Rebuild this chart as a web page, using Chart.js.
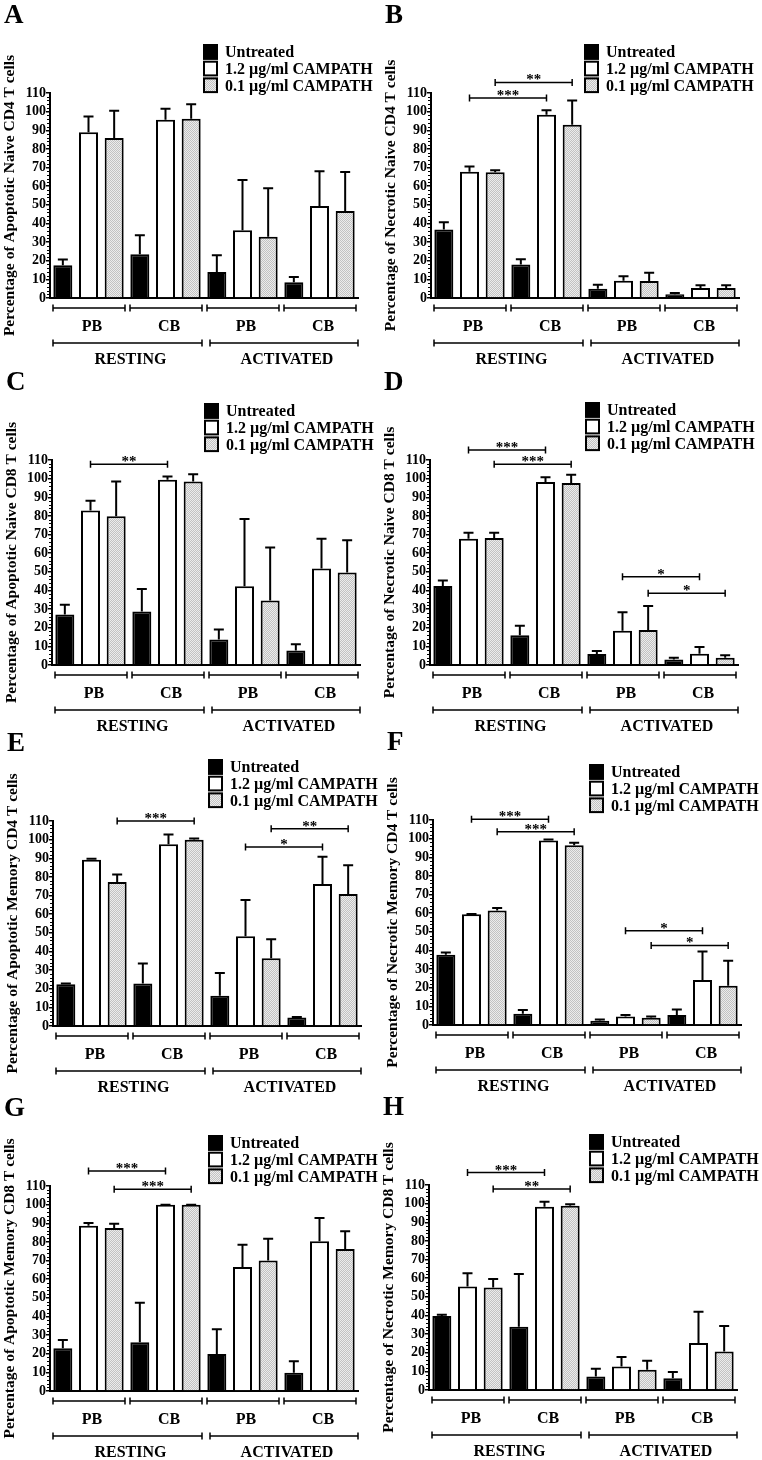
<!DOCTYPE html>
<html>
<head>
<meta charset="utf-8">
<script src="https://cdn.jsdelivr.net/npm/chart.js@4.4.1/dist/chart.umd.min.js"></script>
<style>
  body { margin: 0; background: #fff; overflow: hidden; }
  #wrap { position: relative; width: 762px; height: 1460px; }
  #wrap canvas { position: absolute; }
</style>
</head>
<body>
<div id="wrap"></div>
<script>
// categories
const sources = ["PB", "CB", "PB", "CB"];
const states = ["RESTING", "ACTIVATED"];
const treatments = ["Untreated", "1.2 \u00b5g/ml CAMPATH", "0.1 \u00b5g/ml CAMPATH"];
const yMax = 110;
const yStep = 10;

// values per treatment: [PB rest, CB rest, PB act, CB act]
const aMean = [[17.6, 23.5, 14.0, 8.4], [89.0, 95.6, 36.4, 49.3], [85.8, 96.2, 32.8, 46.7]];
const aSd   = [[3.0, 10.2, 9.0, 2.9], [8.4, 6.0, 26.9, 18.7], [14.7, 7.8, 26.1, 20.9]];
const aSig  = [];

const bMean = [[36.8, 18.0, 5.0, 2.0], [67.8, 98.3, 9.3, 5.3], [67.5, 92.9, 9.1, 5.3]];
const bSd   = [[3.8, 2.8, 2.1, 0.7], [2.7, 2.4, 2.4, 1.5], [1.0, 13.1, 4.4, 1.5]];
const bSig  = [{ from: 1, to: 4, at: 107.3, stars: "***" }, { from: 2, to: 5, at: 115.7, stars: "**" }];

const cMean = [[27.1, 28.7, 13.7, 7.8], [82.9, 99.4, 42.2, 51.8], [79.8, 98.5, 34.6, 49.7]];
const cSd   = [[5.2, 12.1, 5.3, 3.4], [5.3, 1.7, 36.2, 16.0], [18.7, 3.9, 28.4, 17.2]];
const cSig  = [{ from: 1, to: 4, at: 107.7, stars: "**" }];

const dMean = [[42.4, 15.9, 5.9, 2.9], [67.8, 98.2, 18.4, 6.1], [68.2, 97.7, 18.8, 3.9]];
const dSd   = [[3.0, 5.2, 1.6, 1.0], [3.2, 2.5, 9.9, 3.6], [2.8, 4.4, 12.9, 1.3]];
const dSig  = [{ from: 1, to: 4, at: 115.4, stars: "***" }, { from: 2, to: 5, at: 107.7, stars: "***" },
               { from: 7, to: 10, at: 47.4, stars: "*" }, { from: 8, to: 11, at: 38.5, stars: "*" }];

const eMean = [[22.4, 22.8, 16.2, 4.6], [89.2, 97.5, 48.2, 76.2], [77.3, 100.0, 36.3, 70.8]];
const eSd   = [[0.4, 10.7, 12.3, 0.2], [0.5, 5.2, 19.4, 14.6], [4.0, 0.6, 10.3, 15.5]];
const eSig  = [{ from: 2, to: 5, at: 110.0, stars: "***" }, { from: 7, to: 10, at: 96.1, stars: "*" },
               { from: 8, to: 11, at: 105.9, stars: "**" }];

const fMean = [[37.7, 6.1, 2.3, 5.4], [59.4, 99.0, 4.5, 24.2], [61.5, 96.4, 3.9, 21.0]];
const fSd   = [[1.2, 2.0, 0.6, 2.9], [0.2, 0.6, 0.9, 15.3], [1.3, 1.4, 0.6, 13.5]];
const fSig  = [{ from: 1, to: 4, at: 110.4, stars: "***" }, { from: 2, to: 5, at: 103.7, stars: "***" },
               { from: 7, to: 10, at: 50.6, stars: "*" }, { from: 8, to: 11, at: 42.7, stars: "*" }];

const gMean = [[22.9, 26.1, 19.9, 9.8], [88.7, 99.9, 66.6, 80.3], [87.4, 99.9, 70.0, 76.2]];
const gSd   = [[4.5, 21.3, 13.3, 6.2], [1.4, 0.1, 11.9, 12.5], [2.3, 0.1, 11.7, 9.5]];
const gSig  = [{ from: 1, to: 4, at: 118.0, stars: "***" }, { from: 2, to: 5, at: 108.2, stars: "***" }];

const hMean = [[39.7, 33.9, 7.2, 6.3], [55.5, 98.3, 12.6, 25.2], [55.0, 98.8, 10.8, 20.7]];
const hSd   = [[0.7, 28.3, 4.2, 3.3], [7.1, 2.7, 5.1, 16.8], [4.5, 0.9, 4.9, 13.6]];
const hSig  = [{ from: 1, to: 4, at: 116.7, stars: "***" }, { from: 2, to: 5, at: 107.8, stars: "**" }];

const panels = [
    { letter: "A", title: "Percentage of Apoptotic Naive CD4 T cells", mean: aMean, sd: aSd, sig: aSig },
    { letter: "B", title: "Percentage of Necrotic Naive CD4 T cells", mean: bMean, sd: bSd, sig: bSig },
    { letter: "C", title: "Percentage of Apoptotic Naive CD8 T cells", mean: cMean, sd: cSd, sig: cSig },
    { letter: "D", title: "Percentage of Necrotic Naive CD8 T cells", mean: dMean, sd: dSd, sig: dSig },
    { letter: "E", title: "Percentage of Apoptotic Memory CD4 T cells", mean: eMean, sd: eSd, sig: eSig },
    { letter: "F", title: "Percentage of Necrotic Memory CD4 T cells", mean: fMean, sd: fSd, sig: fSig },
    { letter: "G", title: "Percentage of Apoptotic Memory CD8 T cells", mean: gMean, sd: gSd, sig: gSig },
    { letter: "H", title: "Percentage of Necrotic Memory CD8 T cells", mean: hMean, sd: hSd, sig: hSig }
];

// where each panel sits on the page, and its legend
const panelPos = [
    { x: 0, y: 0, lx: 203, ly: 44 },
    { x: 381, y: 0, lx: 203, ly: 44 },
    { x: 2, y: 367, lx: 202, ly: 36 },
    { x: 380, y: 367, lx: 205, ly: 35 },
    { x: 3, y: 728, lx: 205, ly: 31 },
    { x: 383, y: 727, lx: 206, ly: 37 },
    { x: 0, y: 1093, lx: 208, ly: 42 },
    { x: 379, y: 1092, lx: 210, ly: 42 }
];

const SERIF = "'Liberation Serif', 'Times New Roman', serif";

// light grey checker fill
function makeHatch() {
    const c = document.createElement("canvas");
    c.width = 2; c.height = 2;
    const g = c.getContext("2d");
    g.fillStyle = "#ececec";
    g.fillRect(0, 0, 2, 2);
    g.fillStyle = "#c2c2c2";
    g.fillRect(0, 0, 1, 1);
    g.fillRect(1, 1, 1, 1);
    return g.createPattern(c, "repeat");
}
const hatch = makeHatch();
const fills = ["#000000", "#ffffff", hatch];

// put the 4 group values of one treatment into its slots of 12 bars
function spread(vals, t) {
    const out = new Array(12).fill(null);
    vals.forEach((v, g) => { out[g * 3 + t] = v; });
    return out;
}

function bracket(ctx, x1, x2, y, cap) {
    ctx.beginPath();
    ctx.moveTo(x1, y); ctx.lineTo(x2, y);
    ctx.moveTo(x1, y - cap); ctx.lineTo(x1, y + cap);
    ctx.moveTo(x2, y - cap); ctx.lineTo(x2, y + cap);
    ctx.stroke();
}

const annotate = {
    id: "annotate",
    afterDatasetsDraw(chart) {
        const ctx = chart.ctx;
        const ys = chart.scales.y;
        ctx.save();
        ctx.strokeStyle = "#000";
        ctx.lineWidth = 2;
        chart.data.datasets.forEach((ds, di) => {
            const meta = chart.getDatasetMeta(di);
            ds.data.forEach((v, i) => {
                if (v == null) return;
                const bar = meta.data[i];
                const top = ys.getPixelForValue(v + ds.errors[i]);
                const base = ys.getPixelForValue(v);
                ctx.beginPath();
                ctx.moveTo(bar.x, base);
                ctx.lineTo(bar.x, top);
                ctx.moveTo(bar.x - 5, top);
                ctx.lineTo(bar.x + 5, top);
                ctx.stroke();
            });
        });
        ctx.restore();
    },
    afterDraw(chart, args, opts) {
        const ctx = chart.ctx;
        const xs = chart.scales.x, ys = chart.scales.y;
        const area = chart.chartArea;
        const w = xs.width / 12;
        ctx.save();
        ctx.strokeStyle = "#000";
        ctx.fillStyle = "#000";

        // minor ticks on the y axis
        ctx.lineWidth = 1;
        for (let v = 2; v < yMax; v += 2) {
            if (v % yStep === 0) continue;
            const py = Math.round(ys.getPixelForValue(v)) + 0.5;
            ctx.beginPath();
            ctx.moveTo(area.left - 3, py);
            ctx.lineTo(area.left, py);
            ctx.stroke();
        }

        // significance brackets
        ctx.lineWidth = 1.5;
        ctx.textAlign = "center";
        ctx.textBaseline = "alphabetic";
        ctx.font = "bold 15px " + SERIF;
        opts.sig.forEach(s => {
            const x1 = xs.getPixelForValue(s.from);
            const x2 = xs.getPixelForValue(s.to);
            const py = ys.getPixelForValue(s.at);
            bracket(ctx, x1, x2, py, 3.5);
            ctx.fillText(s.stars, (x1 + x2) / 2, py + 2);
        });

        // group brackets and labels under the axis
        ctx.font = "bold 16px " + SERIF;
        ctx.textBaseline = "middle";
        sources.forEach((lab, g) => {
            const x1 = area.left + g * 3 * w + 3;
            const x2 = area.left + (g + 1) * 3 * w - 2;
            bracket(ctx, x1, x2, area.bottom + 10, 3.5);
            ctx.fillText(lab, (x1 + x2) / 2 + 3, area.bottom + 29);
        });
        states.forEach((lab, s) => {
            const x1 = area.left + s * 6 * w + (s ? 6 : 3);
            const x2 = area.left + (s + 1) * 6 * w - (s ? 0 : 2);
            bracket(ctx, x1, x2, area.bottom + 45, 3.5);
            ctx.fillText(lab, (x1 + x2) / 2 + 3, area.bottom + 62);
        });

        // legend
        ctx.lineWidth = 2;
        ctx.textAlign = "left";
        ctx.font = "bold 16px " + SERIF;
        treatments.forEach((lab, t) => {
            const by = opts.ly + t * 16.7;
            ctx.fillStyle = fills[t];
            ctx.fillRect(opts.lx, by, 15, 15.7);
            ctx.strokeRect(opts.lx + 1, by + 1, 13, 13.7);
            ctx.fillStyle = "#000";
            ctx.fillText(lab, opts.lx + 22, by + 9);
        });

        // panel letter
        ctx.font = "bold 27px " + SERIF;
        ctx.textBaseline = "alphabetic";
        ctx.fillText(opts.letter, 4, 23);
        ctx.restore();
    }
};

const wrap = document.getElementById("wrap");

panels.forEach((p, k) => {
    const pos = panelPos[k];
    const canvas = document.createElement("canvas");
    canvas.width = 381;
    canvas.height = 375;
    canvas.style.left = pos.x + "px";
    canvas.style.top = pos.y + "px";
    wrap.appendChild(canvas);

    const datasets = treatments.map((name, t) => ({
        label: name,
        data: spread(p.mean[t], t),
        errors: spread(p.sd[t], t),
        backgroundColor: fills[t],
        borderColor: "#000",
        borderWidth: 2,
        grouped: false,
        barPercentage: 0.74,
        categoryPercentage: 1
    }));

    new Chart(canvas.getContext("2d"), {
        type: "bar",
        data: {
            labels: Array.from({ length: 12 }, (_, i) => sources[Math.floor(i / 3)] + " " + treatments[i % 3]),
            datasets: datasets
        },
        options: {
            responsive: false,
            animation: false,
            layout: { padding: { left: 0, top: 93, right: 23, bottom: 77 } },
            plugins: {
                legend: { display: false },
                tooltip: { enabled: false },
                annotate: { sig: p.sig, letter: p.letter, lx: pos.lx, ly: pos.ly }
            },
            scales: {
                x: {
                    grid: { display: false },
                    ticks: { display: false },
                    border: { display: true, color: "#000", width: 2 },
                    afterFit: s => { s.height = 0; }
                },
                y: {
                    min: 0,
                    max: yMax,
                    ticks: {
                        stepSize: yStep,
                        autoSkip: false,
                        color: "#000",
                        padding: 0,
                        font: { family: SERIF, size: 14, weight: "bold" }
                    },
                    grid: { drawOnChartArea: false, tickLength: 4, color: "#000", lineWidth: 1.5 },
                    border: { color: "#000", width: 2 },
                    title: {
                        display: true,
                        text: p.title,
                        color: "#000",
                        padding: { top: 1, bottom: 0 },
                        font: { family: SERIF, size: 15.5, weight: "bold" }
                    },
                    afterFit: s => { s.width = 50; }
                }
            }
        },
        plugins: [annotate]
    });
});
</script>
</body>
</html>
